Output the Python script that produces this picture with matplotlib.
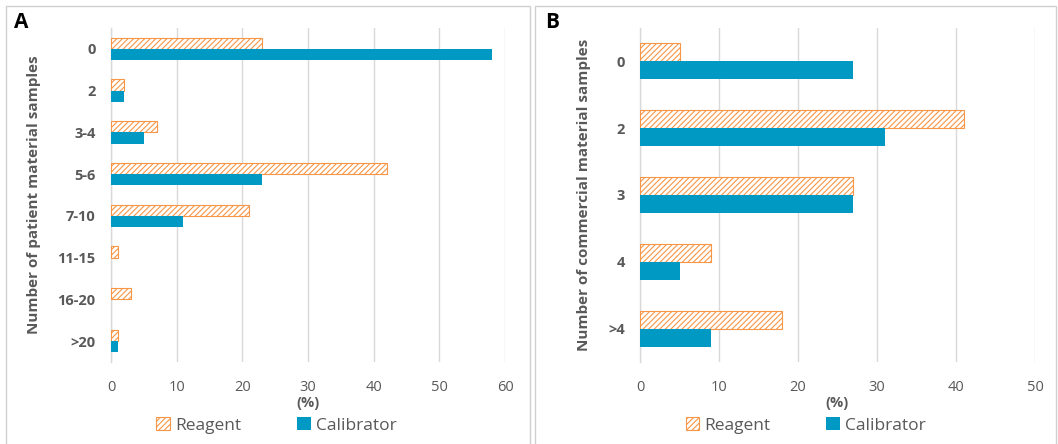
import matplotlib
matplotlib.use("Agg")
import matplotlib.pyplot as plt
import numpy as np
from matplotlib.patches import Rectangle, Patch

plt.rcParams['font.family'] = ['Open Sans', 'DejaVu Sans']
plt.rcParams['hatch.linewidth'] = 0.8

cats_a = ["0", "2", "3-4", "5-6", "7-10", "11-15", "16-20", ">20"]
reagent_a = [23, 2, 7, 42, 21, 1, 3, 1]
calib_a = [58, 2, 5, 23, 11, 0, 0, 1]

cats_b = ["0", "2", "3", "4", ">4"]
reagent_b = [5, 41, 27, 9, 18]
calib_b = [27, 31, 27, 5, 9]

ORANGE = "#F79646"
BLUE = "#0099C4"
GRID = "#D9D9D9"
TEXT = "#595959"

W, H = 1058, 444
fig = plt.figure(figsize=(W / 100, H / 100), dpi=100)

# panel borders
for x0, x1 in [(6, 530), (535, 1056)]:
    fig.patches.append(Rectangle((x0 / W, -0.01), (x1 - x0) / W, 1 - 6 / H + 0.01,
                                 transform=fig.transFigure, fill=False,
                                 edgecolor="#D0D0D0", linewidth=1.0))

def panel(rect, cats, reag, cal, xmax, ylabel, letter, letter_x):
    ax = fig.add_axes(rect)
    n = len(cats)
    y = np.arange(n)
    h = 0.27
    ax.barh(y - h / 2, reag, height=h, facecolor="white", edgecolor=ORANGE,
            hatch="//////", linewidth=0.8, label="Reagent", zorder=3)
    ax.barh(y + h / 2, cal, height=h, color=BLUE, label="Calibrator", zorder=3)
    ax.set_ylim(n - 0.5, -0.5)
    ax.set_xlim(0, xmax)
    ax.set_xticks(np.arange(0, xmax + 1, 10))
    ax.set_yticks(y)
    ax.set_yticklabels(cats, fontweight="bold", fontsize=10.5, color=TEXT)
    ax.tick_params(axis="x", labelsize=10.5, colors=TEXT, length=0, pad=13)
    ax.tick_params(axis="y", length=0, pad=11)
    ax.grid(axis="x", color=GRID, linewidth=1.0, zorder=0)
    for s in ["top", "right", "bottom"]:
        ax.spines[s].set_visible(False)
    ax.spines["left"].set_color(GRID)
    ax.spines["left"].set_linewidth(1.0)
    ax.set_axisbelow(True)
    ax.set_xlabel("(%)", fontweight="bold", fontsize=10.5, color=TEXT, labelpad=1)
    ax.set_ylabel(ylabel, fontweight="bold", fontsize=11, color=TEXT, labelpad=12)
    handles = [Patch(facecolor="white", edgecolor=ORANGE, hatch="//////", linewidth=0.8),
               Patch(facecolor=BLUE)]
    leg = ax.legend(handles, ["Reagent", "Calibrator"], loc="center",
                    bbox_to_anchor=(0.42, -0.19), ncol=2, frameon=False,
                    fontsize=12.5, handlelength=0.8, handleheight=0.8,
                    handletextpad=0.3, columnspacing=3.2, borderpad=0)
    for t in leg.get_texts():
        t.set_color(TEXT)
    fig.text(letter_x / W, 1 - 22 / H, letter, fontweight="bold", fontsize=15,
             color="black", va="center")
    return ax

panel([111 / W, 1 - 362 / H, (505 - 111) / W, (362 - 28) / H], cats_a, reagent_a, calib_a,
      60, "Number of patient material samples", "A", 14)
panel([640 / W, 1 - 362 / H, (1035 - 640) / W, (362 - 28) / H], cats_b, reagent_b, calib_b,
      50, "Number of commercial material samples", "B", 545)

fig.savefig("out.png", dpi=100)
